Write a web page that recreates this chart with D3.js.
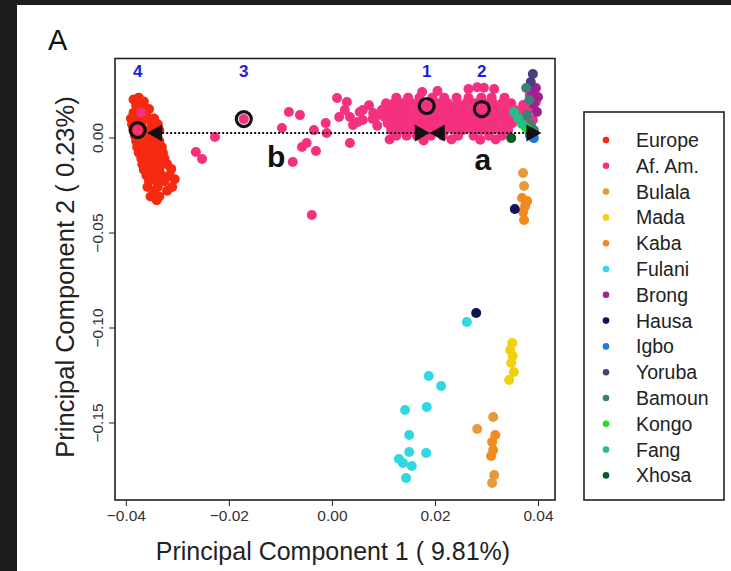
<!DOCTYPE html>
<html><head><meta charset="utf-8">
<script src="https://cdn.jsdelivr.net/npm/d3@7"></script>
<style>html,body{margin:0;padding:0;background:#1c1c1c;}svg{display:block;}</style>
</head><body>
<script>
const populations = ["Europe","Af. Am.","Bulala","Mada","Kaba","Fulani","Brong","Hausa","Igbo","Yoruba","Bamoun","Kongo","Fang","Xhosa"];
const popColors = ["#f52a10","#f5307f","#e59a3c","#f2d00c","#f28a1c","#30d8e2","#a0208f","#11115c","#1e78e6","#4b3d7e","#3d7f7a","#22dd22","#22c083","#0b5a2a"];

const europe = [[-0.0385,0.020],[-0.0375,0.021],[-0.0365,0.019],[-0.038,0.017],[-0.037,0.016],[-0.0355,0.015],[-0.0385,0.013],[-0.036,0.012],
[-0.039,0.010],[-0.0375,0.010],[-0.036,0.010],[-0.0345,0.010],[-0.0388,0.007],[-0.037,0.007],[-0.035,0.007],[-0.0338,0.007],
[-0.0385,0.004],[-0.0365,0.004],[-0.035,0.004],[-0.0335,0.004],[-0.0382,0.001],[-0.0368,0.001],[-0.0352,0.001],[-0.034,0.001],
[-0.038,-0.002],[-0.0365,-0.002],[-0.035,-0.002],[-0.0335,-0.002],[-0.0378,-0.005],[-0.036,-0.005],[-0.0345,-0.005],[-0.033,-0.005],
[-0.0375,-0.008],[-0.036,-0.008],[-0.0345,-0.008],[-0.0328,-0.008],[-0.037,-0.011],[-0.0355,-0.011],[-0.034,-0.011],[-0.0325,-0.011],
[-0.0368,-0.014],[-0.0352,-0.014],[-0.0335,-0.014],[-0.032,-0.014],[-0.0365,-0.017],[-0.035,-0.017],[-0.0335,-0.017],
[-0.036,-0.020],[-0.0345,-0.020],[-0.033,-0.020],[-0.0315,-0.020],[-0.0355,-0.023],[-0.034,-0.023],[-0.0325,-0.023],
[-0.0358,-0.026],[-0.0338,-0.026],[-0.031,-0.026],[-0.0345,-0.028],[-0.032,-0.028],[-0.0352,-0.031],[-0.0335,-0.031],[-0.034,-0.033],
[-0.0305,-0.022],[-0.0312,-0.0165]];

const afAm = [[-0.0370,0.013],[-0.0377,0.0039],[-0.0264,-0.0076],[-0.0252,-0.0113],[-0.0227,0.0003],[-0.0171,0.0097],
[-0.00835,0.0134],[-0.0062,0.0118],[-0.0097,0.0050],[-0.0035,0.0039],[-0.0012,0.0076],[0.0010,0.0208],[0.0029,0.0187],
[0.0014,0.0108],[0.0035,0.0108],[0.0050,0.0082],[0.0041,0.0066],[0.0025,0.0145],[0.0054,0.0134],[0.0060,0.0092],
[0.0080,0.0129],[0.0097,0.0145],[-0.0058,-0.0050],[-0.0049,-0.0029],[-0.0031,-0.0071],[-0.0076,-0.0129],[0.0035,-0.0029],
[-0.0039,-0.0408],[-0.0010,0.0024],
[0.0125,0.021],[0.0148,0.021],[0.017,0.021],[0.0195,0.021],[0.0218,0.021],[0.0242,0.021],[0.0265,0.021],[0.029,0.021],[0.031,0.021],[0.0335,0.021],
[0.0105,0.018],[0.012,0.018],[0.0138,0.018],[0.0155,0.018],[0.0172,0.018],[0.019,0.018],[0.0207,0.018],[0.0225,0.018],[0.0243,0.018],[0.026,0.018],[0.0278,0.018],[0.0296,0.018],[0.0313,0.018],[0.033,0.018],[0.0348,0.018],
[0.0098,0.0145],[0.0113,0.0145],[0.013,0.0145],[0.0147,0.0145],[0.0165,0.0145],[0.0182,0.0145],[0.020,0.0145],[0.0217,0.0145],[0.0234,0.0145],[0.0252,0.0145],[0.027,0.0145],[0.0287,0.0145],[0.0304,0.0145],[0.0322,0.0145],[0.034,0.0145],[0.0355,0.0145],
[0.0102,0.011],[0.0118,0.011],[0.0135,0.011],[0.0152,0.011],[0.017,0.011],[0.0188,0.011],[0.0205,0.011],[0.0222,0.011],[0.024,0.011],[0.0258,0.011],[0.0275,0.011],[0.0292,0.011],[0.031,0.011],[0.0327,0.011],[0.0345,0.011],
[0.0108,0.0075],[0.0125,0.0075],[0.0142,0.0075],[0.016,0.0075],[0.0178,0.0075],[0.0195,0.0075],[0.0213,0.0075],[0.023,0.0075],[0.0248,0.0075],[0.0265,0.0075],[0.0283,0.0075],[0.030,0.0075],[0.0318,0.0075],[0.0336,0.0075],[0.035,0.0075],
[0.0115,0.004],[0.0133,0.004],[0.015,0.004],[0.0168,0.004],[0.0185,0.004],[0.0203,0.004],[0.022,0.004],[0.0238,0.004],[0.0255,0.004],[0.0273,0.004],[0.029,0.004],[0.0308,0.004],[0.0326,0.004],[0.0342,0.004],
[0.0125,0.001],[0.0145,0.001],[0.0165,0.001],[0.0192,0.001],[0.0215,0.001],[0.0245,0.001],[0.0275,0.001],[0.0305,0.001],[0.033,0.001],
[0.0265,0.0255],[0.0282,0.0265],[0.0295,0.0262],[0.0315,0.0255],[0.0175,0.024],[0.0205,0.0245],[0.0072,0.017],[0.0085,0.011],[0.006,0.0145],
[0.0384,0.0224],[0.0396,0.0187],[0.0381,0.0145],[0.0390,0.0092],[0.0375,0.0103],[0.0365,0.0134],[0.0371,0.0171],
[0.0112,-0.001],[0.0178,-0.0015],[0.0232,-0.001],[0.0288,-0.0012],[0.0318,-0.001],[0.0088,0.0062],[0.0079,0.0098]];

const bulala = [[0.0371,-0.0187],[0.0373,-0.0255],[0.0282,-0.1534],[0.0313,-0.1471],[0.0315,-0.1776],[0.0311,-0.1818]];
const mada = [[0.0350,-0.1082],[0.0346,-0.1118],[0.0351,-0.1150],[0.0348,-0.1187],[0.0353,-0.1234],[0.0344,-0.1276]];
const kaba = [[0.0369,-0.0318],[0.0379,-0.0334],[0.0375,-0.0361],[0.0371,-0.0392],[0.0373,-0.0434],[0.0317,-0.1566],[0.0311,-0.1603],[0.0313,-0.1645],[0.0309,-0.1676]];
const fulani = [[0.0262,-0.0971],[0.0188,-0.1255],[0.0212,-0.1308],[0.0142,-0.1434],[0.0184,-0.1418],[0.0150,-0.1566],[0.0150,-0.1655],[0.0183,-0.1661],[0.0130,-0.1692],[0.0138,-0.1713],[0.0155,-0.1729],[0.0144,-0.1792]];
const brong = [[0.0396,0.0261],[0.0400,0.0213],[0.0392,0.0176],[0.0398,0.0134],[0.0388,0.0239]];
const hausa = [[0.0390,0.0029],[0.0355,-0.0376],[0.0280,-0.0924]];
const igbo = [[0.0384,0.0013],[0.0392,-0.0003]];
const yoruba = [[0.0390,0.0334],[0.0386,0.0292]];
const bamoun = [[0.0383,0.0197],[0.0379,0.0118],[0.0386,0.0066],[0.0392,0.0039],[0.0377,0.0261]];
const kongo = [[0.0377,0.0050]];
const fang = [[0.0353,0.0134],[0.0361,0.0103],[0.0369,0.0071]];
const xhosa = [[0.0348,-0.0003]];
const seriesValues = [europe, afAm, bulala, mada, kaba, fulani, brong, hausa, igbo, yoruba, bamoun, kongo, fang, xhosa];

const xTicks = [-0.04,-0.02,0.00,0.02,0.04];
const yTicks = [0.00,-0.05,-0.10,-0.15];
const xTitle = "Principal Component 1 ( 9.81%)";
const yTitle = "Principal Component 2 ( 0.23%)";

const ringLabels = ["1","2","3","4"];
const ringPoints = [[0.0184,0.0166],[0.0291,0.0150],[-0.0171,0.0097],[-0.0377,0.0039]];
const lineY = 0.0024;
const lineX = [-0.0345, 0.0395];
const bowtieX = 0.0190;
const letterLabels = ["b","a"];
const letterPoints = [[-0.0108,-0.0105],[0.0293,-0.0120]];
const labelY = 0.0350;

const W = 731, H = 571;
const svg = d3.select("body").append("svg").attr("width", W).attr("height", H);
svg.append("rect").attr("x",17).attr("y",5).attr("width",W-17).attr("height",H-5).attr("fill","#fff");

const x = d3.scaleLinear().domain([-0.0421, 0.0433]).range([115, 555]);
const y = d3.scaleLinear().domain([-0.1908, 0.0416]).range([500, 58.5]);
const font = "'Liberation Sans', Arial, Helvetica, sans-serif";

svg.append("text").attr("x",48).attr("y",50).attr("font-family",font).attr("font-size",29).attr("fill","#111").text("A");

const g = svg.append("g");
seriesValues.forEach((pts, i) => {
  g.selectAll(null).data(pts).enter().append("circle")
    .attr("cx", d => x(d[0])).attr("cy", d => y(d[1])).attr("r", 5)
    .attr("fill", popColors[i]);
});

svg.append("line").attr("x1", x(lineX[0])).attr("x2", x(lineX[1])).attr("y1", y(lineY)).attr("y2", y(lineY))
  .attr("stroke","#111").attr("stroke-width",2).attr("stroke-dasharray","2,2");

svg.selectAll(null).data(ringPoints).enter().append("circle")
  .attr("cx", d => x(d[0])).attr("cy", d => y(d[1])).attr("r", 7.5)
  .attr("fill","none").attr("stroke","#111").attr("stroke-width",3.2);

function tri(cx, cy, dir, w, h) {
  return `M${cx},${cy} L${cx - dir*w},${cy - h/2} L${cx - dir*w},${cy + h/2} Z`;
}
const ly = y(lineY);
svg.append("path").attr("d", tri(x(lineX[0]) - 7, ly, -1, 15, 17)).attr("fill","#111");
svg.append("path").attr("d", tri(x(lineX[1]) + 6, ly, 1, 15, 17)).attr("fill","#111");
svg.append("path").attr("d", tri(x(bowtieX), ly, 1, 15, 17)).attr("fill","#111");
svg.append("path").attr("d", tri(x(bowtieX), ly, -1, 15, 17)).attr("fill","#111");

svg.selectAll(null).data(ringPoints).enter().append("text")
  .attr("x", d => x(d[0])).attr("y", y(labelY) + 6)
  .attr("text-anchor","middle").attr("font-family",font).attr("font-weight","bold")
  .attr("font-size",17).attr("fill","#1c1ce0").text((d,i) => ringLabels[i]);

svg.selectAll(null).data(letterPoints).enter().append("text")
  .attr("x", d => x(d[0])).attr("y", d => y(d[1]) + 10)
  .attr("text-anchor","middle").attr("font-family",font).attr("font-weight","bold")
  .attr("font-size",30).attr("fill","#111").text((d,i) => letterLabels[i]);

svg.append("rect").attr("x",115).attr("y",58.5).attr("width",440).attr("height",441.5)
  .attr("fill","none").attr("stroke","#222").attr("stroke-width",1.6);

const fmt = d3.format(".2f");
const xa = svg.append("g").attr("transform","translate(0,500)")
  .call(d3.axisBottom(x).tickValues(xTicks).tickFormat(fmt).tickSize(6).tickSizeOuter(0));
xa.select(".domain").remove();
xa.selectAll("line").attr("stroke","#222");
xa.selectAll("text").attr("font-family",font).attr("font-size",15.5).attr("fill","#333").attr("dy","0.8em");

const ya = svg.append("g").attr("transform","translate(115,0)")
  .call(d3.axisLeft(y).tickValues(yTicks).tickFormat(fmt).tickSize(6).tickSizeOuter(0));
ya.select(".domain").remove();
ya.selectAll("line").attr("stroke","#222");
ya.selectAll("text").attr("font-family",font).attr("font-size",15.5).attr("fill","#333")
  .attr("text-anchor","middle").attr("x",null).attr("dy",null)
  .attr("transform", `translate(-12,0) rotate(-90)`);

svg.append("text").attr("x",333).attr("y",560).attr("text-anchor","middle")
  .attr("font-family",font).attr("font-size",25).attr("fill","#222").text(xTitle);
svg.append("text").attr("transform","translate(74,277) rotate(-90)").attr("text-anchor","middle")
  .attr("font-family",font).attr("font-size",25.5).attr("fill","#222").text(yTitle);

svg.append("rect").attr("x",584).attr("y",112).attr("width",140).attr("height",388)
  .attr("fill","#fff").attr("stroke","#222").attr("stroke-width",1.6);
const leg = svg.selectAll(".leg").data(populations).enter().append("g")
  .attr("transform",(d,i) => `translate(606,${140 + i*25.8})`);
leg.append("circle").attr("r",3.3).attr("fill",(d,i) => popColors[i]);
leg.append("text").attr("x",30).attr("y",7).attr("font-family",font).attr("font-size",19.5).attr("fill","#222").text(d => d);
</script>
</body></html>
